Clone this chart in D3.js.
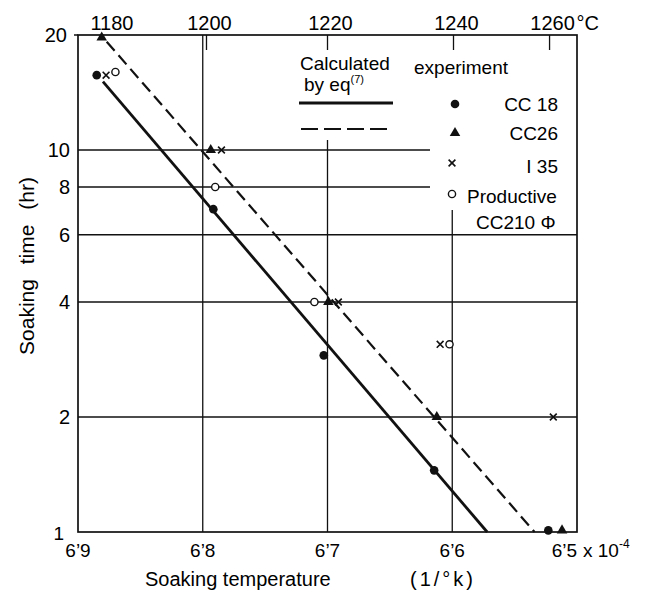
<!DOCTYPE html>
<html>
<head>
<meta charset="utf-8">
<script src="https://cdn.jsdelivr.net/npm/d3@7"></script>
<style>
  body { margin: 0; background: #fff; }
  text { font-family: "Liberation Sans", Arial, sans-serif; fill: #000; }
</style>
</head>
<body>
<script>
// Values: t = 1/T (x 10^-4 1/K), h = soaking time (hr)
var cc18 = [
  {t: 6.885, h: 15.7}, {t: 6.7915, h: 7.0}, {t: 6.703, h: 2.9},
  {t: 6.6145, h: 1.45}, {t: 6.523, h: 1.01}
];
var cc26 = [
  {t: 6.881, h: 19.7}, {t: 6.7936, h: 10}, {t: 6.6993, h: 4},
  {t: 6.6124, h: 2}, {t: 6.512, h: 1.01}
];
var i35 = [
  {t: 6.8775, h: 15.7}, {t: 6.785, h: 10}, {t: 6.6913, h: 4},
  {t: 6.6097, h: 3.1}, {t: 6.519, h: 2}
];
var productive = [
  {t: 6.870, h: 16}, {t: 6.790, h: 8}, {t: 6.7105, h: 4}, {t: 6.6022, h: 3.1}
];

// Calculated by eq(7): two endpoints of each straight line
var calcSolid = [{t: 6.880, h: 15.1}, {t: 6.572, h: 1}];
var calcDashed = [{t: 6.877, h: 19.2}, {t: 6.534, h: 1}];

var xTicks = [6.9, 6.8, 6.7, 6.6, 6.5];
var xTickLabels = ["6’9", "6’8", "6’7", "6’6", "6’5"];
var yTicks = [20, 10, 8, 6, 4, 2];
var topTicksC = [1180, 1200, 1220, 1240, 1260];
var topTicksInv = [6.880, 6.797, 6.700, 6.599, 6.522];

var width = 650, height = 594;

var svg = d3.select("body")
  .append("svg")
    .attr("width", width)
    .attr("height", height);

var x = d3.scaleLinear().domain([6.9, 6.5]).range([78, 577]);
var y = d3.scaleLog().domain([1, 20]).range([532, 35]);

var ink = "#111";

// grid lines (some stop short of the legend)
var vStart = {6.8: y(20), 6.7: 140, 6.6: 210};
[6.8, 6.7, 6.6].forEach(function(v) {
  svg.append("line")
    .attr("x1", x(v)).attr("x2", x(v))
    .attr("y1", vStart[v]).attr("y2", y(1))
    .attr("stroke", ink).attr("stroke-width", 1.3);
});
[10, 8, 6, 4, 2].forEach(function(v) {
  svg.append("line")
    .attr("x1", x(6.9))
    .attr("x2", (v >= 8) ? 430 : x(6.5))
    .attr("y1", y(v)).attr("y2", y(v))
    .attr("stroke", ink).attr("stroke-width", 1.3);
});

// frame
svg.append("rect")
  .attr("x", x(6.9)).attr("y", y(20))
  .attr("width", x(6.5) - x(6.9)).attr("height", y(1) - y(20))
  .attr("fill", "none").attr("stroke", ink).attr("stroke-width", 1.7);

// bottom axis labels
xTicks.forEach(function(v, i) {
  var last = i === xTicks.length - 1;
  svg.append("text")
    .attr("x", x(v))
    .attr("y", 557)
    .attr("text-anchor", last ? "end" : "middle")
    .style("font-size", "19px")
    .text(xTickLabels[i]);
});
var mult = svg.append("text")
  .attr("x", x(6.5) + 6).attr("y", 557)
  .style("font-size", "19px");
mult.append("tspan").text("x 10");
mult.append("tspan").attr("dy", -9).style("font-size", "12px").text("-4");

// left axis labels
yTicks.forEach(function(v) {
  svg.append("text")
    .attr("x", v === 20 ? 67 : 70)
    .attr("y", y(v) + 7)
    .attr("text-anchor", "end")
    .style("font-size", "20px")
    .text(v);
});
svg.append("text")
  .attr("x", 64).attr("y", 540)
  .attr("text-anchor", "end")
  .style("font-size", "19px")
  .text("1");
svg.append("line")
  .attr("x1", 74).attr("x2", x(6.9))
  .attr("y1", y(20)).attr("y2", y(20))
  .attr("stroke", ink).attr("stroke-width", 1.5);

// top axis in degrees C
topTicksC.forEach(function(c, i) {
  var px = x(topTicksInv[i]);
  if (i > 0) {
    svg.append("line")
      .attr("x1", px).attr("x2", px)
      .attr("y1", y(20)).attr("y2", y(20) + 15)
      .attr("stroke", ink).attr("stroke-width", 1.3);
  }
  svg.append("text")
    .attr("x", px + (i === 0 ? 9 : 3)).attr("y", 30)
    .attr("text-anchor", "middle")
    .style("font-size", "20px")
    .text(c);
});
svg.append("text")
  .attr("x", x(topTicksInv[4]) + 27).attr("y", 30)
  .style("font-size", "20px")
  .text("°C");

// axis titles
svg.append("text")
  .attr("x", 145).attr("y", 586)
  .style("font-size", "20px")
  .text("Soaking temperature");
svg.append("text")
  .attr("x", 410).attr("y", 586)
  .style("font-size", "20px")
  .style("letter-spacing", "3px")
  .text("(1/°k)");
svg.append("text")
  .attr("transform", "translate(34,266) rotate(-90)")
  .attr("text-anchor", "middle")
  .style("font-size", "21px")
  .style("word-spacing", "9px")
  .text("Soaking time (hr)");

// calculated lines
var line = d3.line()
  .x(function(d) { return x(d.t); })
  .y(function(d) { return y(d.h); });
svg.append("path")
  .datum(calcSolid)
  .attr("d", line)
  .attr("fill", "none").attr("stroke", ink).attr("stroke-width", 2.8);
svg.append("path")
  .datum(calcDashed)
  .attr("d", line)
  .attr("fill", "none").attr("stroke", ink).attr("stroke-width", 2.2)
  .attr("stroke-dasharray", "12,6");

// markers
function drawDot(g, cx, cy) {
  g.append("circle").attr("cx", cx).attr("cy", cy).attr("r", 4.3).attr("fill", ink);
}
function drawTri(g, cx, cy) {
  g.append("path")
    .attr("d", d3.symbol().type(d3.symbolTriangle).size(48)())
    .attr("transform", "translate(" + cx + "," + cy + ")")
    .attr("fill", ink);
}
function drawCross(g, cx, cy) {
  var s = 3.4;
  g.append("path")
    .attr("d", "M" + (cx - s) + "," + (cy - s) + "L" + (cx + s) + "," + (cy + s) +
               "M" + (cx - s) + "," + (cy + s) + "L" + (cx + s) + "," + (cy - s))
    .attr("stroke", ink).attr("stroke-width", 1.6);
}
function drawRing(g, cx, cy) {
  g.append("circle").attr("cx", cx).attr("cy", cy).attr("r", 3.6)
    .attr("fill", "#fff").attr("stroke", ink).attr("stroke-width", 1.4);
}

var marks = svg.append("g");
productive.forEach(function(d) { drawRing(marks, x(d.t), y(d.h)); });
i35.forEach(function(d) { drawCross(marks, x(d.t), y(d.h)); });
cc26.forEach(function(d) { drawTri(marks, x(d.t), y(d.h)); });
cc18.forEach(function(d) { drawDot(marks, x(d.t), y(d.h)); });

// legend
var lg = svg.append("g");
lg.append("text").attr("x", 300).attr("y", 70).style("font-size", "19px").text("Calculated");
var eq = lg.append("text").attr("x", 304).attr("y", 91).style("font-size", "19px");
eq.append("tspan").text("by eq");
eq.append("tspan").attr("dy", -8).style("font-size", "11px").text("(7)");
lg.append("line").attr("x1", 299).attr("x2", 393).attr("y1", 103).attr("y2", 103)
  .attr("stroke", ink).attr("stroke-width", 2.8);
lg.append("line").attr("x1", 301).attr("x2", 393).attr("y1", 129).attr("y2", 129)
  .attr("stroke", ink).attr("stroke-width", 2.2).attr("stroke-dasharray", "17,6");

lg.append("text").attr("x", 414).attr("y", 74).style("font-size", "19px").text("experiment");
drawDot(lg, 455, 104);
drawTri(lg, 455, 133);
drawCross(lg, 452, 163);
drawRing(lg, 452, 194);
lg.append("text").attr("x", 558).attr("y", 111).attr("text-anchor", "end").style("font-size", "19px").text("CC 18");
lg.append("text").attr("x", 558).attr("y", 140).attr("text-anchor", "end").style("font-size", "19px").text("CC26");
lg.append("text").attr("x", 558).attr("y", 173).attr("text-anchor", "end").style("font-size", "19px").text("I  35");
lg.append("text").attr("x", 467).attr("y", 203).style("font-size", "19px").text("Productive");
lg.append("text").attr("x", 476).attr("y", 229).style("font-size", "19px").text("CC210 Φ");
</script>
</body>
</html>
